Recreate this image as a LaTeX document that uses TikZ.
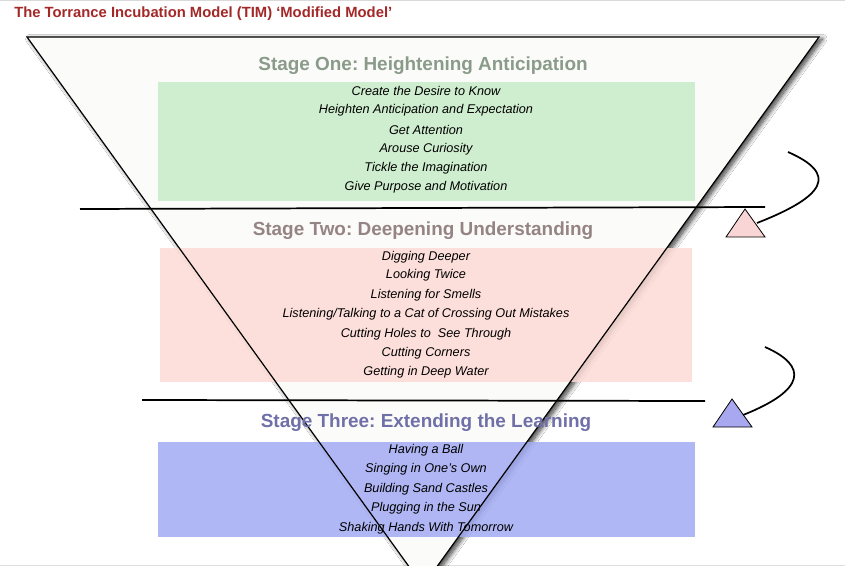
\documentclass[tikz,border=0pt]{standalone}
\usepackage{fontspec}
\setmainfont{Liberation Sans}
\frenchspacing
\usetikzlibrary{shadows.blur}
\definecolor{titlered}{RGB}{163,40,40}
\definecolor{stageone}{RGB}{138,155,138}
\definecolor{stagetwo}{RGB}{150,132,132}
\definecolor{stagethree}{RGB}{112,112,168}
\definecolor{boxgreen}{RGB}{200,235,200}
\definecolor{boxpink}{RGB}{253,219,214}
\definecolor{boxblue}{RGB}{162,171,243}
\definecolor{trifill}{RGB}{251,251,249}
\definecolor{tripink}{RGB}{249,213,213}
\definecolor{triblue}{RGB}{168,168,240}
\tikzset{
  item/.style={font=\fontsize{9.5}{11}\selectfont\itshape, text=black, inner sep=0pt, anchor=center},
  stagetitle/.style={font=\fontsize{14.2}{17}\selectfont\bfseries, inner sep=0pt, anchor=center},
  stagebox/.style={fill opacity=0.85, draw=none},
  divider/.style={line width=1.3pt, black},
  loopline/.style={line width=1.3pt, black},
  marker/.style={draw=black, line width=0.6pt},
}
\begin{document}
\begin{tikzpicture}[x=0.75pt,y=-0.75pt]
\useasboundingbox (0,0) rectangle (845,566);
\fill[white] (0,0) rectangle (845,566);
\begin{scope}
\clip (0,0) rectangle (845,566);
% page border lines
\draw[black!15, line width=1.5pt] (0,0.5) -- (845,0.5);
\draw[black!12, line width=1pt] (0,565.5) -- (845,565.5);
% title
\node[font=\fontsize{11.1}{13}\selectfont\bfseries, text=titlered, anchor=west, inner sep=0pt] (title) at (14,14) {The Torrance Incubation Model (TIM) ‘Modified Model’};
% inverted triangle
\coordinate (tl) at (27,37);
\coordinate (tr) at (819,37);
\coordinate (ap) at (423,586);
\fill[trifill, blur shadow={shadow xshift=2.5pt, shadow yshift=-1.5pt, shadow blur radius=3.5pt, shadow blur steps=12, shadow opacity=80}] (tl) -- (tr) -- (ap) -- cycle;
% stage boxes
\fill[boxgreen, stagebox] (158,82) rectangle (695,201);
\fill[boxpink, stagebox] (160,248) rectangle (692,382);
\fill[boxblue, stagebox] (158,442) rectangle (695,537);
% triangle outline
\draw[line width=0.9pt, line join=miter] (tl) -- (tr) -- (ap) -- cycle;
% stage titles
\node[stagetitle, text=stageone] (s1) at (423,65.5) {Stage One: Heightening Anticipation};
\node[stagetitle, text=stagetwo] (s2) at (423,231) {Stage Two: Deepening Understanding};
\node[stagetitle, text=stagethree] (s3) at (426,423) {Stage Three: Extending the Learning};
% stage one items
\node[item] (a1) at (426,90.5) {Create the Desire to Know};
\node[item] (a2) at (426,110.5) {Heighten Anticipation and Expectation};
\node[item] (a3) at (426,130) {Get Attention};
\node[item] (a4) at (426,149.5) {Arouse Curiosity};
\node[item] (a5) at (426,168.5) {Tickle the Imagination};
\node[item] (a6) at (426,187.5) {Give Purpose and Motivation};
% stage two items
\node[item] (b1) at (426,257.5) {Digging Deeper};
\node[item] (b2) at (426,275.5) {Looking Twice};
\node[item] (b3) at (426,295.5) {Listening for Smells};
\node[item] (b4) at (426,314.5) {Listening/Talking to a Cat of Crossing Out Mistakes};
\node[item] (b5) at (426,334.5) {Cutting Holes to\ \ See Through};
\node[item] (b6) at (426,353.5) {Cutting Corners};
\node[item] (b7) at (426,372.5) {Getting in Deep Water};
% stage three items
\node[item] (c1) at (426,450.5) {Having a Ball};
\node[item] (c2) at (426,469.5) {Singing in One’s Own};
\node[item] (c3) at (426,489.5) {Building Sand Castles};
\node[item] (c4) at (426,508.5) {Plugging in the Sun};
\node[item] (c5) at (426,528.5) {Shaking Hands With Tomorrow};
% dividers
\coordinate (d1l) at (80,209);
\coordinate (d1r) at (765,207);
\coordinate (d2l) at (142,400);
\coordinate (d2r) at (705,401);
\draw[divider] (d1l) -- (d1r);
\draw[divider] (d2l) -- (d2r);
% pink marker triangle and loop
\coordinate (p1) at (745,209);
\coordinate (p2) at (726,237);
\coordinate (p3) at (765,237);
\filldraw[marker, fill=tripink] (p1) -- (p2) -- (p3) -- cycle;
\coordinate (l1s) at (788,152);
\coordinate (l1e) at (757,223);
\draw[loopline] (l1s) .. controls (838,174) and (826,196) .. (l1e);
% blue marker triangle and loop
\coordinate (q1) at (732,399);
\coordinate (q2) at (713,427);
\coordinate (q3) at (752,427);
\filldraw[marker, fill=triblue] (q1) -- (q2) -- (q3) -- cycle;
\coordinate (l2s) at (765,347);
\coordinate (l2e) at (743,415);
\draw[loopline] (l2s) .. controls (808,366) and (806,390) .. (l2e);
\end{scope}
\end{tikzpicture}
\end{document}
